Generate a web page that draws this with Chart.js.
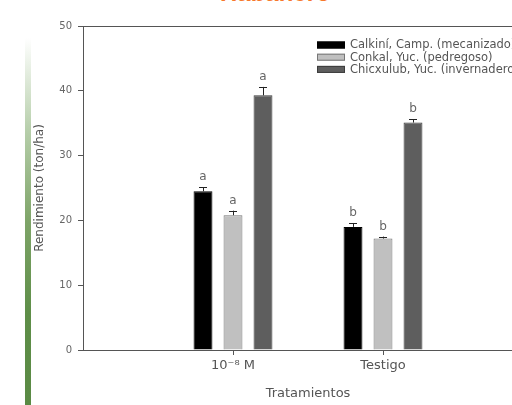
<!DOCTYPE html>
<html lang="es">
<head>
<meta charset="UTF-8">
<title>Habanero</title>
<script src="https://cdn.jsdelivr.net/npm/chart.js@4.4.7/dist/chart.umd.min.js"></script>
<style>
  * { margin: 0; padding: 0; box-sizing: border-box; }
  html, body { width: 512px; height: 405px; overflow: hidden; background: #fff; }
  .viewport { position: relative; width: 512px; height: 405px; overflow: hidden; }
  .stripe {
    position: absolute; left: 25px; top: 38px; width: 6px; height: 367px;
    background: linear-gradient(to bottom, #ffffff 0%, #b7cfab 25%, #7ea468 50%, #5e8e48 75%, #5a8a44 100%);
  }
  .title {
    position: absolute; left: 220px; top: -19px;
    font: bold 24px "Liberation Sans", Arial, sans-serif; line-height: 24px;
    color: #f7782c; white-space: nowrap;
  }
  .chart-box { position: absolute; left: 0; top: 0; width: 545px; height: 405px; }
</style>
</head>
<body>
<div class="viewport">
  <div class="stripe"></div>
  <div class="title">Habanero</div>
  <div class="chart-box"><canvas id="chart"></canvas></div>
</div>
<script>
const categories = ['10⁻⁸ M', 'Testigo'];
const seriesNames = ['Calkiní, Camp. (mecanizado)', 'Conkal, Yuc. (pedregoso)', 'Chicxulub, Yuc. (invernadero)'];
const calkini = [24.5, 19.0];
const conkal = [20.8, 17.2];
const chicxulub = [39.3, 35.1];
const calkiniErr = [0.6, 0.6];
const conkalErr = [0.7, 0.3];
const chicxulubErr = [1.3, 0.5];
const calkiniLetters = ['a', 'b'];
const conkalLetters = ['a', 'b'];
const chicxulubLetters = ['a', 'b'];
const yTicks = [0, 10, 20, 30, 40, 50];

const FONT = '"DejaVu Sans", Verdana, sans-serif';
// empty slots at both ends so the axis runs from the frame edge
const pad = arr => [null, ...arr, null];

const fills = ['#000000', '#c0c0c0', '#5e5e5e'];
const borders = ['#000000', '#777777', '#3c3c3c'];
const errs = [calkiniErr, conkalErr, chicxulubErr];
const letters = [calkiniLetters, conkalLetters, chicxulubLetters];

const errorBars = {
  id: 'errorBars',
  afterDatasetsDraw(chart) {
    const ctx = chart.ctx, y = chart.scales.y;
    chart.data.datasets.forEach((ds, i) => {
      const meta = chart.getDatasetMeta(i);
      meta.data.forEach((el, j) => {
        const v = ds.data[j];
        if (v === null) return;
        const e = errs[i][j - 1];
        const top = y.getPixelForValue(v + e);
        ctx.save();
        ctx.strokeStyle = '#222';
        ctx.lineWidth = 1;
        ctx.beginPath();
        ctx.moveTo(Math.round(el.x) + 0.5, el.y);
        ctx.lineTo(Math.round(el.x) + 0.5, top);
        ctx.moveTo(el.x - 4, Math.round(top) + 0.5);
        ctx.lineTo(el.x + 4, Math.round(top) + 0.5);
        ctx.stroke();
        ctx.fillStyle = '#666';
        ctx.font = '12px ' + FONT;
        ctx.textAlign = 'center';
        ctx.textBaseline = 'bottom';
        ctx.fillText(letters[i][j - 1], el.x, top - 4);
        ctx.restore();
      });
    });
  }
};

const frameAndLegend = {
  id: 'frameAndLegend',
  afterDraw(chart) {
    const ctx = chart.ctx, a = chart.chartArea;
    ctx.save();
    ctx.strokeStyle = '#555';
    ctx.lineWidth = 1;
    ctx.beginPath();
    ctx.moveTo(a.left, Math.round(a.top) + 0.5);
    ctx.lineTo(a.right, Math.round(a.top) + 0.5);
    ctx.stroke();
    const lx = a.left + 234, ly = a.top + 19;
    chart.data.datasets.forEach((ds, i) => {
      const yy = ly + i * 12.2;
      ctx.fillStyle = ds.backgroundColor;
      ctx.fillRect(lx, yy - 3.5, 28, 7);
      ctx.strokeStyle = ds.borderColor;
      ctx.strokeRect(lx + 0.5, yy - 3, 27, 6);
      ctx.fillStyle = '#555';
      ctx.font = '11.5px ' + FONT;
      ctx.textAlign = 'left';
      ctx.textBaseline = 'middle';
      ctx.fillText(ds.label, lx + 33, yy + 0.5);
    });
    ctx.restore();
  }
};

new Chart(document.getElementById('chart'), {
  type: 'bar',
  data: {
    labels: pad(categories).map(c => c === null ? '' : c),
    datasets: [calkini, conkal, chicxulub].map((d, i) => ({
      label: seriesNames[i],
      data: pad(d),
      backgroundColor: fills[i],
      borderColor: borders[i],
      borderWidth: 1,
      categoryPercentage: 0.6,
      barPercentage: 0.63
    }))
  },
  options: {
    responsive: true,
    maintainAspectRatio: false,
    animation: false,
    layout: { padding: { top: 26, right: 12, left: 0, bottom: 0 } },
    plugins: { legend: { display: false }, tooltip: { enabled: false } },
    scales: {
      x: {
        offset: false,
        afterFit: s => { s.height = 55; },
        grid: {
          offset: false,
          drawOnChartArea: false,
          tickLength: 5,
          color: ctx => (ctx.index === 1 || ctx.index === 2) ? '#555' : 'rgba(0,0,0,0)'
        },
        border: { display: true, color: '#555' },
        ticks: { padding: 3, color: '#555', font: { family: FONT, size: 13 } },
        title: { display: true, text: 'Tratamientos', color: '#555', font: { family: FONT, size: 13 }, padding: { bottom: 4 } }
      },
      y: {
        min: 0, max: 50,
        afterFit: s => { s.width = 83; },
        afterBuildTicks: s => { s.ticks = yTicks.map(v => ({ value: v })); },
        grid: { drawOnChartArea: false, tickLength: 5, color: '#555' },
        border: { display: true, color: '#555' },
        ticks: { padding: 6, color: '#666', font: { family: FONT, size: 10 } },
        title: { display: true, text: 'Rendimiento (ton/ha)', color: '#555', font: { family: FONT, size: 12 }, padding: { top: 33 } }
      }
    }
  },
  plugins: [errorBars, frameAndLegend]
});
</script>
</body>
</html>
